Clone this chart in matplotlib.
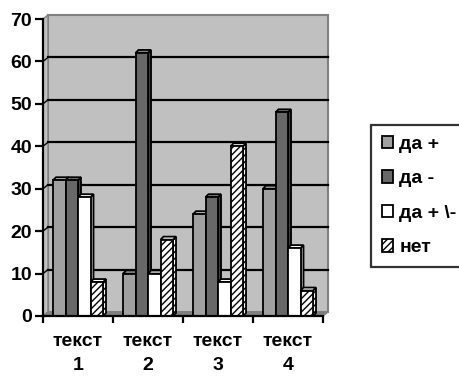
import matplotlib
matplotlib.use("Agg")
import matplotlib.pyplot as plt
from matplotlib.patches import Polygon
import numpy as np

categories = ["текст\n1", "текст\n2", "текст\n3", "текст\n4"]
series_names = ["да +", "да -", "да + \\-", "нет"]
da_plus = [32, 10, 24, 30]
da_minus = [32, 62, 28, 48]
da_plus_minus = [28, 10, 8, 16]
net = [8, 18, 40, 6]
y_ticks = [0, 10, 20, 30, 40, 50, 60, 70]

series = [da_plus, da_minus, da_plus_minus, net]
front_colors = ["#a0a0a0", "#686868", "#ffffff", "#ffffff"]
side_colors = ["#707070", "#404040", "#c8c8c8", "#ffffff"]
top_colors = ["#b8b8b8", "#808080", "#ffffff", "#ffffff"]
hatches = [None, None, None, "/////"]

plt.rcParams['font.family'] = ['Liberation Sans', 'DejaVu Sans']
plt.rcParams['hatch.linewidth'] = 1.0

fig = plt.figure(figsize=(4.6, 3.76), dpi=100)
ax = fig.add_axes([43/460, 60/376, 280/460, 297/376])
ax.set_xlim(0, 4)
ax.set_ylim(0, 70)

# 3D offsets in data units
wdx, wdy = 5/70, 4*70/297      # wall offset
bdx, bdy = 3/70, 3*70/297      # bar depth

wall = Polygon([(wdx, wdy), (4+wdx, wdy), (4+wdx, 70+wdy), (wdx, 70+wdy)],
               closed=True, facecolor="#c0c0c0", edgecolor="#808080", lw=1.5,
               clip_on=False, zorder=0)
ax.add_patch(wall)
side = Polygon([(0, 0), (wdx, wdy), (wdx, 70+wdy), (0, 70)], closed=True,
               facecolor="#c0c0c0", edgecolor="#808080", lw=1.0, clip_on=False, zorder=0)
ax.add_patch(side)
floor = Polygon([(0, 0), (4, 0), (4+wdx, wdy), (wdx, wdy)], closed=True,
                facecolor="#808080", edgecolor="#808080", lw=1.0, clip_on=False, zorder=0.5)
ax.add_patch(floor)
for yv in y_ticks[1:-1]:
    ax.plot([wdx, 4+wdx], [yv+wdy, yv+wdy], color="black", lw=1.6, clip_on=False, zorder=1)
    ax.plot([0, wdx], [yv, yv+wdy], color="#000000", lw=1.0, clip_on=False, zorder=1)

w = 0.1786
start = 0.143
x0 = np.arange(4)
for s, vals in enumerate(series):
    xs = x0 + start + s*w
    z = 3 + s
    ax.bar(xs, vals, width=w, align='edge', color=front_colors[s], edgecolor="black",
           lw=1.3, hatch=hatches[s], zorder=z+0.5, label=series_names[s], clip_on=False)
    for xl, h in zip(xs, vals):
        xr = xl + w
        sp = Polygon([(xr, 0), (xr+bdx, bdy), (xr+bdx, h+bdy), (xr, h)], closed=True,
                     facecolor=side_colors[s], edgecolor="black", lw=1.3,
                     hatch=hatches[s], zorder=z, clip_on=False)
        ax.add_patch(sp)
        tp = Polygon([(xl, h), (xr, h), (xr+bdx, h+bdy), (xl+bdx, h+bdy)], closed=True,
                     facecolor=top_colors[s], edgecolor="black", lw=1.3,
                     zorder=z, clip_on=False)
        ax.add_patch(tp)

for sp_name in ["top", "right"]:
    ax.spines[sp_name].set_visible(False)
ax.spines["left"].set_linewidth(1.6)
ax.spines["bottom"].set_linewidth(1.6)
ax.spines["left"].set_zorder(10)
ax.spines["bottom"].set_zorder(10)
ax.patch.set_alpha(0)

ax.set_yticks(y_ticks)
ax.set_yticklabels([str(v) for v in y_ticks], fontsize=14, fontweight="bold")
ax.tick_params(axis="y", direction="out", length=6, width=1.6, pad=2)

ax.set_xticks([0, 1, 2, 3, 4])
ax.set_xticklabels([])
ax.tick_params(axis="x", which="major", direction="out", length=5, width=1.6)
ax.set_xticks([0.5, 1.5, 2.5, 3.5], minor=True)
ax.set_xticklabels(categories, minor=True, fontsize=14, fontweight="bold", linespacing=1.6)
ax.tick_params(axis="x", which="minor", length=0, pad=12)

leg = fig.legend(loc="upper left", bbox_to_anchor=(371/460, 1-125/376),
                 bbox_transform=fig.transFigure, frameon=True, fancybox=False,
                 prop={"weight": "bold", "size": 14}, handlelength=0.6, handleheight=0.6,
                 handletextpad=0.3, labelspacing=0.9, borderpad=0.55, borderaxespad=0)
leg.get_frame().set_edgecolor("black")
leg.get_frame().set_linewidth(1.6)

fig.savefig("out.png", dpi=100)
